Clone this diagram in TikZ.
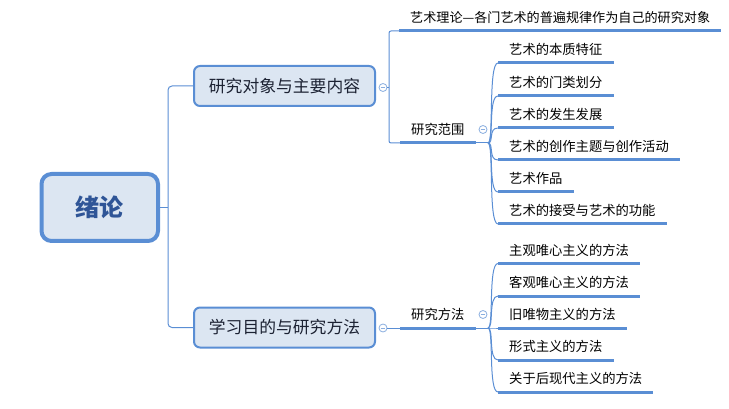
\documentclass[tikz,border=0pt]{standalone}
\usepackage{fontspec}
\setmainfont{Noto Sans CJK SC}
\definecolor{linec}{HTML}{5A8ED4}
\definecolor{boxfill}{HTML}{DCE6F2}
\definecolor{roottext}{HTML}{2F5597}
\definecolor{branchtext}{HTML}{1C2233}
\definecolor{collc}{HTML}{8AAEDF}
\begin{document}
\begin{tikzpicture}[x=1pt,y=-1pt,
  conn/.style={draw=linec, line width=1pt},
  rootbox/.style={draw=linec, fill=boxfill, line width=4pt, rounded corners=10pt,
    minimum width=116.5pt, minimum height=67pt, text=roottext,
    font=\fontsize{24}{28}\selectfont\bfseries},
  branchbox/.style={draw=linec, fill=boxfill, line width=2pt, rounded corners=6pt,
    minimum width=181pt, minimum height=40pt, text=branchtext,
    font=\fontsize{16.8}{20}\selectfont},
  leaf/.style={font=\fontsize{13.3}{15}\selectfont, inner xsep=11pt, inner ysep=0pt,
    minimum height=26pt, anchor=south west,
    append after command={(\tikzlastnode.south west) edge[draw=linec, line width=3pt] (\tikzlastnode.south east)}},
  coll/.style={circle, draw=collc, fill=white, line width=0.8pt, minimum size=8pt, inner sep=0pt,
    path picture={\draw[collc, line width=0.8pt] ([xshift=-2.3pt]path picture bounding box.center) -- ([xshift=2.3pt]path picture bounding box.center);}}
]
\useasboundingbox (0,0) rectangle (729,409);

% root and branches
\node[rootbox] (root) at (99.75,207.5) {绪论};
\node[branchbox] (b1) at (284.5,86) {研究对象与主要内容};
\node[branchbox] (b2) at (284.5,327.5) {学习目的与研究方法};
\coordinate (v0) at (168,207.5);
\draw[conn] (root.east) -- (v0);
\draw[conn, rounded corners=4pt] (b1.west) -| (v0) |- (b2.west);

% branch 1
\node[coll] (c1) at (383,87.5) {};
\node[leaf, font=\fontsize{13.1}{15}\selectfont] (top) at (399,31) {艺术理论—各门艺术的普遍规律作为自己的研究对象};
\node[leaf] (fw1) at (400,143) {研究范围\hspace{1pt}};
\coordinate (v1) at (389,87.5);
\draw[conn] (c1.east) -- (v1);
\draw[conn, rounded corners=2pt] (top.south west) -| (v1) |- (fw1.south west);
\node[coll] (c3) at (483,129.5) {};
\coordinate (j1) at (488,143);
\draw[conn] (fw1.south east) -- (j1);

\node[leaf] (a1) at (498,63) {艺术的本质特征};
\node[leaf] (a2) at (498,96) {艺术的门类划分};
\node[leaf] (a3) at (498,128) {艺术的发生发展};
\node[leaf] (a4) at (498,160) {艺术的创作主题与创作活动};
\node[leaf] (a5) at (498,192) {艺术作品};
\node[leaf] (a6) at (498,224) {艺术的接受与艺术的功能};
\foreach \n in {a1,a2,a3,a4,a5,a6}
  \draw[conn] (j1) .. controls +(6,0) and +(-10,0) .. (\n.south west);

% branch 2
\node[coll] (c2) at (383,328) {};
\node[leaf] (fw2) at (400,328) {研究方法\hspace{1pt}};
\draw[conn] (c2.east) -- (fw2.south west);
\node[coll] (c4) at (483,314.5) {};
\coordinate (j2) at (488,328);
\draw[conn] (fw2.south east) -- (j2);

\node[leaf] (m1) at (498,263.5) {主观唯心主义的方法};
\node[leaf] (m2) at (498,296) {客观唯心主义的方法};
\node[leaf] (m3) at (498,328) {旧唯物主义的方法};
\node[leaf] (m4) at (498,360) {形式主义的方法};
\node[leaf] (m5) at (498,392) {关于后现代主义的方法};
\foreach \n in {m1,m2,m3,m4,m5}
  \draw[conn] (j2) .. controls +(6,0) and +(-10,0) .. (\n.south west);
\end{tikzpicture}
\end{document}
